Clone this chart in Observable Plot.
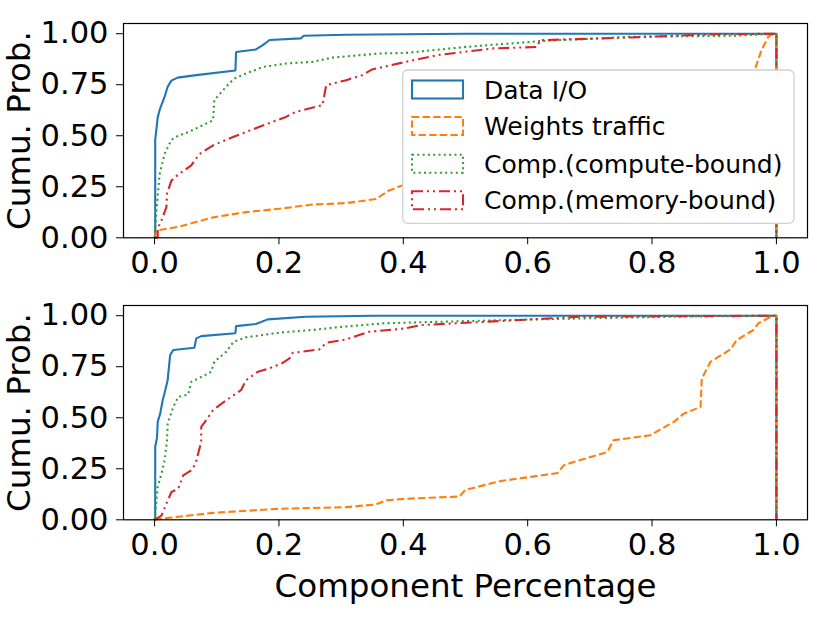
<!DOCTYPE html>
<html>
<head>
<meta charset="utf-8">
<script src="https://cdn.jsdelivr.net/npm/d3@7"></script>
<script src="https://cdn.jsdelivr.net/npm/@observablehq/plot@0.6"></script>
<style>
  html, body { margin: 0; padding: 0; background: white; }
  #chart { position: relative; width: 830px; height: 622px; overflow: hidden; }
  #chart svg { display: block; }
</style>
</head>
<body>
<div id="chart"></div>
<script>
// ---- tick labels ----
const xTicks = [0, 0.2, 0.4, 0.6, 0.8, 1.0];
const yTicks = [0, 0.25, 0.5, 0.75, 1.0];

// ---- series names / styles ----
const seriesNames = ["Data I/O", "Weights traffic", "Comp.(compute-bound)", "Comp.(memory-bound)"];
const seriesColors = ["#1f77b4", "#ff7f0e", "#2ca02c", "#d62728"];
const seriesDash = [null, "7.4,3.2", "2,3.3", "11,4,2,4,2,4"];

// ---- top panel ----
const topIOx = [0, 0.001, 0.001, 0.005, 0.008, 0.016, 0.021, 0.027, 0.037, 0.067, 0.13, 0.131, 0.163, 0.174, 0.185, 0.235, 0.24, 0.308, 0.5, 1, 1];
const topIOy = [0, 0, 0.48, 0.59, 0.625, 0.69, 0.74, 0.77, 0.785, 0.797, 0.82, 0.91, 0.923, 0.944, 0.969, 0.977, 0.99, 0.995, 1.0, 1, 0];

const topWx = [0, 0.003, 0.04, 0.094, 0.147, 0.2, 0.254, 0.308, 0.356, 0.377, 0.399, 0.5, 0.6, 0.7, 0.8, 0.9, 0.95, 0.966, 0.976, 0.987, 0.995, 1, 1];
const topWy = [0, 0.036, 0.055, 0.10, 0.126, 0.142, 0.163, 0.17, 0.19, 0.232, 0.257, 0.33, 0.4, 0.48, 0.57, 0.68, 0.77, 0.83, 0.92, 0.985, 1.0, 1, 0];

const topCx = [0, 0.003, 0.008, 0.016, 0.027, 0.038, 0.056, 0.094, 0.096, 0.115, 0.128, 0.147, 0.174, 0.211, 0.254, 0.286, 0.361, 0.404, 0.503, 0.626, 0.77, 0.93, 1, 1];
const topCy = [0, 0.134, 0.31, 0.41, 0.48, 0.50, 0.52, 0.576, 0.674, 0.74, 0.78, 0.805, 0.837, 0.854, 0.862, 0.883, 0.903, 0.906, 0.936, 0.965, 0.985, 0.99, 1, 0];

const topMx = [0, 0.005, 0.005, 0.011, 0.019, 0.020, 0.027, 0.038, 0.059, 0.072, 0.094, 0.126, 0.174, 0.211, 0.227, 0.27, 0.276, 0.308, 0.334, 0.35, 0.404, 0.455, 0.545, 0.615, 0.62, 0.77, 0.904, 1, 1];
const topMy = [0, 0, 0.045, 0.085, 0.15, 0.216, 0.28, 0.31, 0.355, 0.41, 0.453, 0.494, 0.55, 0.592, 0.617, 0.65, 0.748, 0.772, 0.797, 0.825, 0.862, 0.895, 0.928, 0.935, 0.968, 0.982, 0.997, 1, 0];

// ---- bottom panel ----
const botIOx = [0, 0.001, 0.001, 0.004, 0.005, 0.009, 0.013, 0.016, 0.021, 0.025, 0.03, 0.064, 0.067, 0.075, 0.13, 0.131, 0.163, 0.182, 0.243, 0.35, 1, 1];
const botIOy = [0, 0, 0.357, 0.406, 0.48, 0.52, 0.586, 0.62, 0.684, 0.807, 0.832, 0.843, 0.889, 0.90, 0.914, 0.949, 0.959, 0.982, 0.995, 1.0, 1, 0];

const botWx = [0, 0.024, 0.094, 0.2, 0.308, 0.356, 0.372, 0.404, 0.49, 0.50, 0.557, 0.648, 0.658, 0.674, 0.728, 0.738, 0.797, 0.835, 0.851, 0.878, 0.88, 0.894, 0.926, 0.936, 0.963, 0.971, 0.993, 1, 1];
const botWy = [0, 0.01, 0.034, 0.054, 0.062, 0.075, 0.095, 0.103, 0.114, 0.147, 0.19, 0.229, 0.267, 0.283, 0.332, 0.39, 0.414, 0.48, 0.52, 0.553, 0.692, 0.774, 0.835, 0.88, 0.93, 0.963, 0.998, 1, 0];

const botCx = [0, 0.001, 0.005, 0.011, 0.016, 0.02, 0.021, 0.03, 0.038, 0.054, 0.059, 0.078, 0.091, 0.096, 0.115, 0.127, 0.147, 0.2, 0.254, 0.292, 0.369, 0.404, 0.61, 0.824, 1, 1];
const botCy = [0, 0.03, 0.16, 0.226, 0.29, 0.39, 0.471, 0.553, 0.602, 0.614, 0.676, 0.704, 0.725, 0.774, 0.823, 0.872, 0.894, 0.917, 0.93, 0.943, 0.963, 0.966, 0.982, 0.995, 1, 0];

const botMx = [0, 0.011, 0.019, 0.027, 0.038, 0.046, 0.059, 0.066, 0.07, 0.075, 0.075, 0.083, 0.094, 0.104, 0.123, 0.139, 0.147, 0.166, 0.185, 0.206, 0.217, 0.222, 0.265, 0.276, 0.308, 0.345, 0.404, 0.428, 0.62, 0.685, 1, 1];
const botMy = [0, 0.02, 0.079, 0.136, 0.152, 0.218, 0.242, 0.275, 0.324, 0.381, 0.455, 0.488, 0.537, 0.561, 0.602, 0.635, 0.684, 0.725, 0.742, 0.769, 0.791, 0.818, 0.835, 0.867, 0.884, 0.921, 0.938, 0.954, 0.984, 0.995, 1, 0];

function rows(xs, ys) { return xs.map((x, i) => ({x, y: ys[i]})); }

function lineMarks(panel) {
  return panel.map((s, i) => Plot.line(rows(s[0], s[1]), {
    x: "x", y: "y", stroke: seriesColors[i], strokeWidth: 2.1,
    strokeDasharray: seriesDash[i] || undefined, strokeLinejoin: "miter", strokeLinecap: "butt"
  }));
}

const topPanel = [[topIOx, topIOy], [topWx, topWy], [topCx, topCy], [topMx, topMy]];
const botPanel = [[botIOx, botIOy], [botWx, botWy], [botCx, botCy], [botMx, botMy]];

const common = {
  width: 830, marginLeft: 123, marginRight: 23,
  style: {fontFamily: "DejaVu Sans", fontSize: "30px", color: "black", background: "white", overflow: "visible"},
  x: {domain: [-0.05, 1.05]},
  y: {domain: [0, 1.05]}
};

function axes(xlabel) {
  return [
    Plot.frame({stroke: "black", strokeWidth: 1.2}),
    Plot.axisX({ticks: xTicks, tickFormat: d3.format(".1f"), tickSize: 7, tickPadding: 7, fontSize: 30.5,
      label: xlabel, labelAnchor: "center", labelOffset: 77, labelArrow: "none"}),
    Plot.axisY({ticks: yTicks, tickFormat: d3.format(".2f"), tickSize: 7, tickPadding: 8, fontSize: 30.5,
      label: "Cumu. Prob.", labelAnchor: "center", labelOffset: 117, labelArrow: "none"})
  ];
}

const topPlot = Plot.plot({
  ...common, height: 290, marginTop: 23, marginBottom: 52.7,
  marks: [...lineMarks(topPanel), ...axes(null)]
});

const botPlot = Plot.plot({
  ...common, height: 332, marginTop: 15, marginBottom: 102.7,
  marks: [...lineMarks(botPanel), ...axes("Component Percentage")]
});

// strip any automatic label arrows (older Plot versions) and enlarge axis labels
[topPlot, botPlot].forEach(p => {
  d3.select(p).selectAll("text, tspan").each(function() {
    if (this.childNodes.length === 1 && this.firstChild.nodeType === 3) {
      const t = this.textContent;
      if (/[↑→]/.test(t)) this.textContent = t.replace(/\s*[↑→]\s*/g, "").trim();
    }
  });
  d3.select(p).selectAll('g[aria-label="x-axis label"], g[aria-label="y-axis label"]')
    .attr("font-size", 32.5).selectAll("text").attr("font-size", 32.5);
});

const chart = document.getElementById("chart");
chart.appendChild(topPlot);
chart.appendChild(botPlot);

// ---- legend (top panel) ----
const svg = d3.select(topPlot);
const lg = svg.append("g").attr("class", "legend").attr("text-anchor", "start");
lg.append("rect").attr("x", 402.7).attr("y", 70).attr("width", 391.3).attr("height", 153.3)
  .attr("rx", 5).attr("fill", "white").attr("stroke", "#d0d0d0").attr("stroke-width", 1.3);
const rowY = [89.5, 126, 163.7, 200.3];
seriesNames.forEach((name, i) => {
  lg.append("rect").attr("x", 412).attr("y", rowY[i] - 9).attr("width", 51).attr("height", 18)
    .attr("fill", "none").attr("stroke", seriesColors[i]).attr("stroke-width", 2.1)
    .attr("stroke-dasharray", seriesDash[i] || null);
  lg.append("text").attr("x", 484).attr("y", rowY[i]).attr("dy", "0.36em")
    .attr("text-anchor", "start")
    .attr("font-family", "DejaVu Sans").attr("font-size", 25).attr("fill", "black").text(name);
});
</script>
</body>
</html>
